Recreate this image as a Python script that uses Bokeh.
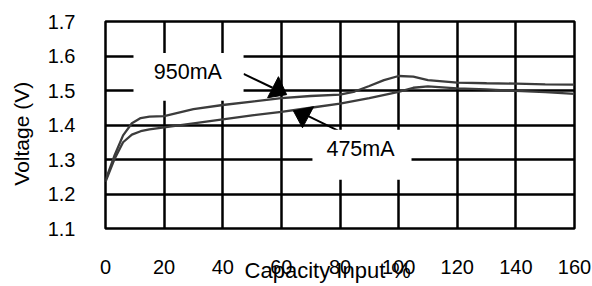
from bokeh.plotting import figure
from bokeh.models import Label, BoxAnnotation, FixedTicker, Range1d
from bokeh.embed import file_html
from bokeh.resources import INLINE

# ---- data ----
x_950 = [0, 3, 6, 9, 12, 15, 20, 30, 40, 50, 60, 70, 80, 85, 90, 95, 100, 105, 110, 120, 130, 140, 150, 160]
v_950 = [1.24, 1.31, 1.37, 1.405, 1.42, 1.424, 1.426, 1.446, 1.458, 1.468, 1.478, 1.484, 1.488, 1.497,
         1.513, 1.530, 1.542, 1.540, 1.530, 1.523, 1.521, 1.520, 1.518, 1.517]
x_475 = [0, 3, 6, 9, 12, 15, 20, 30, 40, 50, 60, 70, 80, 90, 100, 105, 110, 120, 130, 140, 150, 160]
v_475 = [1.235, 1.30, 1.35, 1.372, 1.382, 1.387, 1.393, 1.405, 1.416, 1.428, 1.438, 1.45, 1.462, 1.478,
         1.496, 1.508, 1.512, 1.506, 1.503, 1.499, 1.495, 1.49]
x_ticks = [0, 20, 40, 60, 80, 100, 120, 140, 160]
y_ticks = [1.1, 1.2, 1.3, 1.4, 1.5, 1.6, 1.7]
series_names = ["950mA", "475mA"]
x_title = "Capacity Input %"
y_title = "Voltage (V)"

FONT = "Liberation Sans"
CURVE = "#3c3c3c"
NB = "\u00a0"

p = figure(width=592, height=286, output_backend="svg", toolbar_location=None,
           x_range=Range1d(0, 160), y_range=Range1d(1.1, 1.7),
           min_border_left=105, min_border_right=18, min_border_top=21, min_border_bottom=58)
p.background_fill_color = "white"
p.border_fill_color = "white"
p.outline_line_color = "black"
p.outline_line_width = 2.5

for ax, ticks in ((p.xaxis[0], x_ticks), (p.yaxis[0], y_ticks)):
    ax.ticker = FixedTicker(ticks=ticks)
    ax.axis_line_color = None
    ax.major_tick_line_color = None
    ax.minor_tick_line_color = None
    ax.major_label_text_font = FONT
    ax.major_label_text_font_size = "20px"
    ax.major_label_text_color = "black"
    ax.axis_label_text_font = FONT
    ax.axis_label_text_font_size = "21px"
    ax.axis_label_text_font_style = "normal"
    ax.axis_label_text_color = "black"

p.xaxis[0].major_label_standoff = 25
p.yaxis[0].major_label_standoff = 24
p.xaxis[0].axis_label = x_title + NB * 4
p.xaxis[0].axis_label_standoff = -19
p.xaxis[0].axis_label_text_font_size = "22px"
p.yaxis[0].axis_label = y_title + NB * 3
p.yaxis[0].axis_label_standoff = 12

p.xgrid.grid_line_color = "black"
p.xgrid.grid_line_width = 2.5
p.ygrid.grid_line_color = "black"
p.ygrid.grid_line_width = 2.5
p.xgrid.ticker = FixedTicker(ticks=x_ticks)
p.ygrid.ticker = FixedTicker(ticks=y_ticks)

# curves
p.line(x_950, v_950, line_color=CURVE, line_width=2.3)
p.line(x_475, v_475, line_color=CURVE, line_width=2.3)

# callout boxes (white, covering grid)
p.add_layout(BoxAnnotation(left=9.55, right=47.1, bottom=1.470, top=1.609,
                           fill_color="white", fill_alpha=1.0, line_color=None))
p.add_layout(BoxAnnotation(left=70.6, right=104.4, bottom=1.241, top=1.386,
                           fill_color="white", fill_alpha=1.0, line_color=None))

p.add_layout(Label(x=28.1, y=1.554, text=series_names[0], text_align="center", text_baseline="middle",
                   text_font=FONT, text_font_size="21.5px", text_color="black"))
p.add_layout(Label(x=87.0, y=1.331, text=series_names[1], text_align="center", text_baseline="middle",
                   text_font=FONT, text_font_size="21.5px", text_color="black"))

# callout arrows
p.segment(x0=[47.1, 79.5], y0=[1.548, 1.383], x1=[57.0, 67.6], y1=[1.508, 1.432],
          line_color="black", line_width=2)
p.patches(xs=[[59.0, 55.3, 61.8], [64.1, 71.0, 67.2]],
          ys=[[1.540, 1.479, 1.488], [1.441, 1.453, 1.392]],
          fill_color="black", line_color="black", line_width=1)

open("out.html", "w").write(file_html(p, INLINE))
